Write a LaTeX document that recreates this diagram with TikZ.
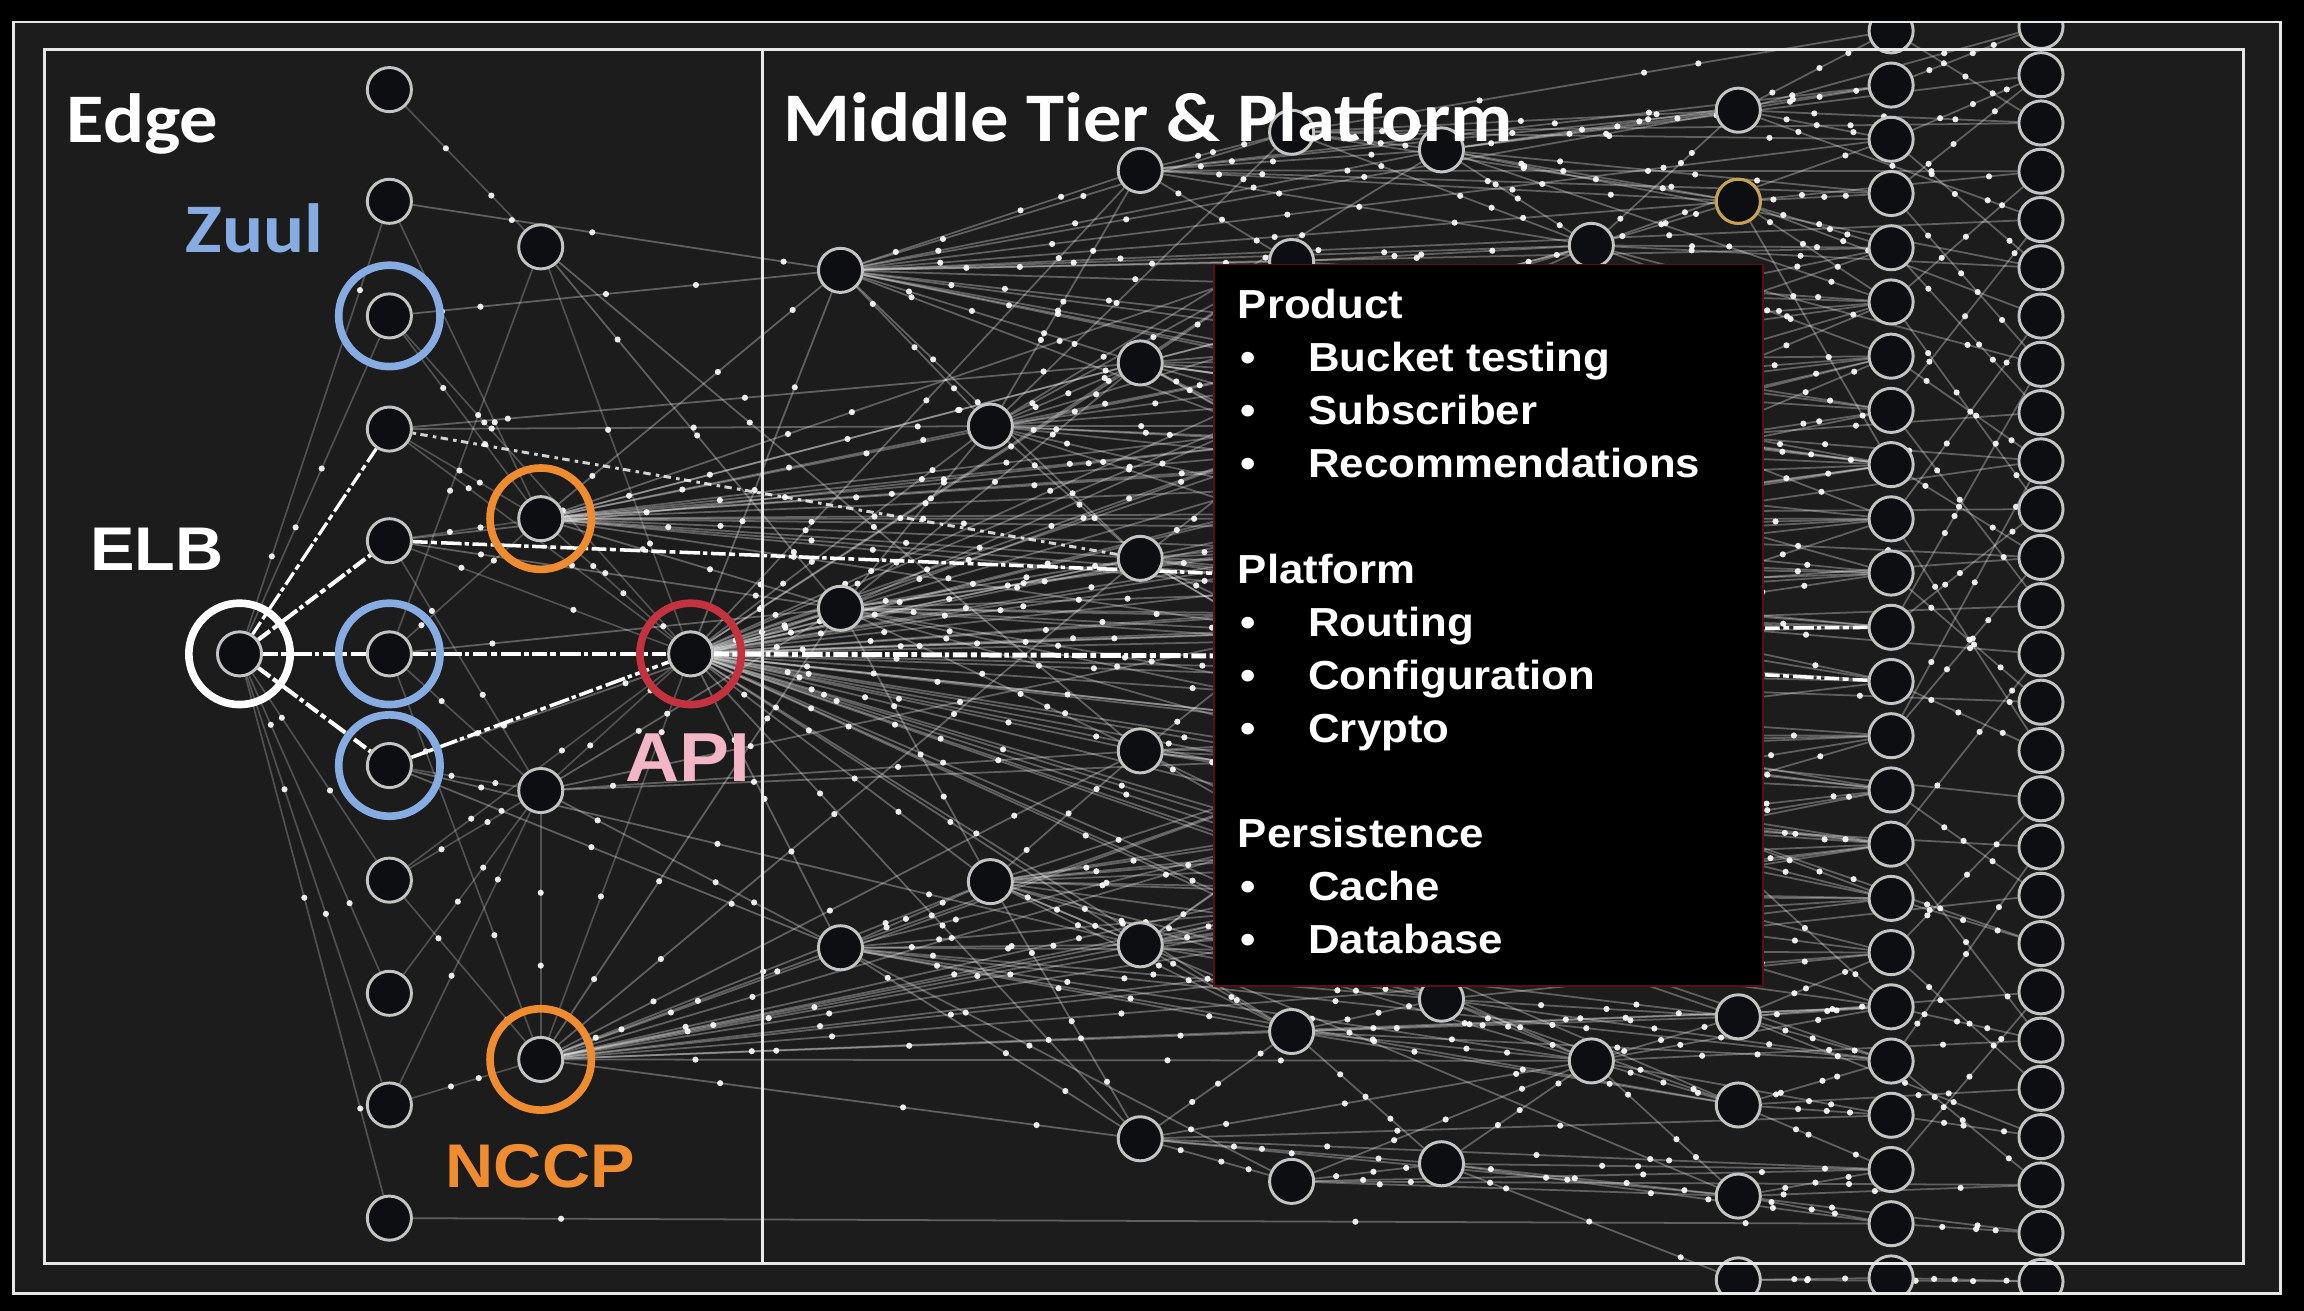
\documentclass[tikz,border=0pt]{standalone}
\usepackage{fontspec}
\setmainfont{Liberation Sans}
\newfontfamily\calfont[FakeStretch=1.1]{Carlito}
\newfontfamily\arfont[FakeStretch=1.08]{Liberation Sans}
\pgfdeclarelayer{bg}
\pgfdeclarelayer{wires}
\pgfdeclarelayer{front}
\pgfsetlayers{bg,wires,main,front}
\definecolor{panel}{HTML}{1C1C1C}
\definecolor{nodefill}{HTML}{0C0E12}
\definecolor{nodeline}{HTML}{C4C4C4}
\definecolor{zuulblue}{HTML}{86ACE2}
\definecolor{nccporange}{HTML}{F08C30}
\definecolor{apired}{HTML}{C43240}
\definecolor{apipink}{HTML}{F2B6C6}
\definecolor{goldring}{HTML}{C9A250}
\definecolor{boxred}{HTML}{5E0C18}
\definecolor{frame}{HTML}{E8E8E8}
\tikzset{
  svc/.style={circle, draw=nodeline, fill=nodefill, line width=1pt, minimum size=15pt, inner sep=0pt},
  halo/.style={circle, draw=#1, line width=2.6pt, minimum size=34.5pt, inner sep=0pt},
  wire/.style={white, draw opacity=0.3, line width=0.6pt},
  dimwire/.style={white, draw opacity=0.24, line width=0.55pt},
  pkt/.style={circle, fill=white, fill opacity=0.9, draw=none, inner sep=0pt, minimum size=2.1pt},
  traffic/.style={draw=white, line width=1.4pt, dash pattern=on 5pt off 1.2pt on 2pt off 1.4pt on 7pt off 1pt on 1.5pt off 1.2pt},
  lighttraffic/.style={draw=white, draw opacity=0.8, line width=1pt, dash pattern=on 1.2pt off 1.5pt on 2.5pt off 1.8pt},
  title/.style={anchor=base west, inner sep=0pt, text=white, font=\calfont\bfseries\fontsize{23.7}{28}\selectfont},
  tag/.style={anchor=base west, inner sep=0pt, font=\arfont\bfseries\fontsize{#1}{#1}\selectfont},
  boxtxt/.style={anchor=base west, inner sep=0pt, text=white, font=\arfont\bfseries\fontsize{13.8}{18}\selectfont},
}
\newcommand\lnk[3][wire]{%
  \pgfmathsetmacro\pa{0.08+0.27*rnd}%
  \pgfmathsetmacro\pb{0.38+0.27*rnd}%
  \pgfmathsetmacro\pc{0.68+0.24*rnd}%
  \draw[#1] (#2) -- (#3) node[pkt,pos=\pa]{} node[pkt,pos=\pb]{} node[pkt,pos=\pc]{};}
\newcommand\dlnk[2]{%
  \pgfmathsetmacro\pa{0.15+0.3*rnd}%
  \pgfmathsetmacro\pb{0.55+0.35*rnd}%
  \draw[dimwire] (#1) -- (#2) node[pkt,pos=\pa]{} node[pkt,pos=\pb]{};}
\begin{document}
\begin{tikzpicture}[x=0.5pt,y=-0.5pt]
\pgfmathsetseed{2024}
\useasboundingbox (0,0) rectangle (1568,892);
\begin{pgfonlayer}{bg}
  \fill[black] (0,0) rectangle (1568,892);
  \fill[panel] (9,15) rectangle (1552,880);
\end{pgfonlayer}

% ---------- nodes ----------
\node[svc] (elb) at (163,445) {};
\node[svc] (api) at (470,445) {};
\foreach \y [count=\i] in {61,137,215,292,368,445,521,599,676,752,829}
  \node[svc] (e\i) at (265,\y) {};
\foreach \y [count=\i] in {168,353,538,721}
  \node[svc] (n\i) at (368,\y) {};
\foreach \xx/\yy [count=\i] in {572/184,572/414,572/645,674/290,674/600,
   776/116,776/247,776/380,776/511,776/643,776/775,
   879/90,879/178,879/702,879/804,981/102,981/680,981/792,
   1083/167,1083/722,1183/75,1183/137,1183/692,1183/752,1183/814,1183/871}
  \node[svc] (m\i) at (\xx,\yy) {};
\node[svc, draw=goldring] at (m22) {};
\foreach \i in {1,...,24}
  \node[svc] (a\i) at (1287,{21+36.9*(\i-1)}) {};
\foreach \i in {1,...,27}
  \node[svc] (b\i) at (1389,{18+32.85*(\i-1)}) {};
% hidden points under the box
\foreach \xx/\yy [count=\i] in {879/300,879/430,879/570,981/230,981/360,981/500,981/610,
   1083/290,1083/420,1083/560,1150/300,1150/560}
  \coordinate (h\i) at (\xx,\yy);
\coordinate (hz) at (1000,397);
\coordinate (hq) at (1000,447);
\coordinate (hy) at (1120,428);
\coordinate (hr) at (1120,455);

% rings
\node[halo=white] (elbring) at (elb) {};
\node[halo=apired] (apiring) at (api) {};
\node[halo=zuulblue] (zr1) at (e3) {};
\node[halo=zuulblue] (zr2) at (e6) {};
\node[halo=zuulblue] (zr3) at (e7) {};
\node[halo=nccporange] (or1) at (n2) {};
\node[halo=nccporange] (or2) at (n4) {};

% ---------- connectors ----------
\begin{pgfonlayer}{wires}
\foreach \s/\t in {elb/e2,elb/e3,elb/e8,elb/e9,elb/e10,elb/e11,e1/n1,n1/e6,n1/api,
   e3/api,e3/n2,e4/n2,e4/api,e5/n2,e5/api,e5/n3,e7/n3,e8/n3,e8/api,e9/n3,e10/n3,
   e10/n4,n2/api,n2/e6,n3/api,n3/n4,n4/e6,n4/api,e2/n2,e6/n3,e8/n4}
  {\dlnk{\s}{\t}}
\foreach \s/\t in {n1/m9,n1/m2,e11/a23,e7/m3,e7/m10,e7/m2,n3/m2,n3/m3,n3/m9,n3/h2,n3/a14,
   e3/m1,e4/m4,e4/m7,e5/m2,e5/h1,e6/m2,e2/m1}
  {\lnk{\s}{\t}}
\foreach \t in {m1,m2,m3,m4,m5,m6,m7,m8,m9,m10,m11,m13,h1,h2,h3,h4,h5,h6,h9,h10,
   m14,m17,m19,m20,a5,a8,a10,a11,a14,a15,a16,a18,b12,b15,m23,m24,a20,
   h7,h8,h11,h12,a6,a7,a9,a12,a13,a17,a19,b10,b13,b17} {\lnk{api}{\t}}
\foreach \t in {m1,m2,m4,m7,m8,h1,h4,h5,h8,m19,a7,a9,a11,b9,m13,h2,h9,h11,a10,a12,b11} {\lnk{n2}{\t}}
\foreach \t in {m3,m5,m8,m9,m10,m11,h3,h6,h7,m14,m20,a15,a17,m2,h10,h12,a16,a18,a19,b19} {\lnk{n4}{\t}}
\foreach \t in {m6,m7,m4,m12,m13,m16,h1,h4,m19,a5,a8,m21,m22,a3,b5,m8,h8,h11,a6,a9} {\lnk{m1}{\t}}
\foreach \t in {m4,m7,m8,m9,h1,h2,h5,a11,a12,m5,h9,h4,h6,h10,a9,a13,a15} {\lnk{m2}{\t}}
\foreach \t in {m5,m10,m11,m14,m15,h3,h6,m17,m20,a18,a20,m24,h7} {\lnk{m3}{\t}}
\foreach \t in {m6,m7,m8,m12,m13,h4,m16,m19,a6,a9,h8,h1,h5,h9,a7,a10} {\lnk{m4}{\t}}
\foreach \t in {m9,m10,m11,m14,h3,h6,m17,m20,a16,a19,m25,h7,h10,h12,a14,a17} {\lnk{m5}{\t}}
\foreach \t in {m12,m16,m19,m21,m22,a2,a4,b4,m13} {\lnk{m6}{\t}}
\foreach \t in {m13,h1,h4,m19,a7,a8,h8,h5,h9,h11,a9,a11} {\lnk{m7}{\t}}
\foreach \t in {h1,h2,h5,a10,a12,h9,h6,h10,a13,a11} {\lnk{m8}{\t}}
\foreach \t in {h2,h3,h6,a14,h10,h7,h12,a15,a16} {\lnk{m9}{\t}}
\foreach \t in {m14,h3,m17,a17,m23,h7,h6,h10,h12,a16} {\lnk{m10}{\t}}
\foreach \t in {m14,m15,m18,m20,a21,m25,a22} {\lnk{m11}{\t}}
\foreach \t in {m16,m19,m21,m22,a1,a3,b3} {\lnk{m12}{\t}}
\foreach \t in {m19,h4,h8,a6} {\lnk{m13}{\t}}
\foreach \t in {m17,m18,m20,m23,m24,a19,a20} {\lnk{m14}{\t}}
\foreach \t in {m18,m20,m25,a22,b25} {\lnk{m15}{\t}}
\foreach \t in {m19,m21,m22,a2,a4,a6,b2,b6} {\lnk{m16}{\t}}
\foreach \t in {m20,m23,m24,a18,a20} {\lnk{m17}{\t}}
\foreach \t in {m20,m25,m26,a23,a22} {\lnk{m18}{\t}}
\foreach \t in {m21,m22,a3,a5,a7,b6,b8} {\lnk{m19}{\t}}
\foreach \t in {m23,m24,m25,a19,a21,b22} {\lnk{m20}{\t}}
\foreach \t in {a1,a2,a3,b1,b3,b5} {\lnk{m21}{\t}}
\foreach \t in {a4,a5,a6,b4,b7,a9} {\lnk{m22}{\t}}
\foreach \t in {a18,a19,a20,b21,b24} {\lnk{m23}{\t}}
\foreach \t in {a20,a21,a22,b23} {\lnk{m24}{\t}}
\foreach \t in {a22,a23,b25,b26} {\lnk{m25}{\t}}
\foreach \t in {a24,b27} {\lnk{m26}{\t}}
\foreach \s/\t in {h4/a5,h4/a6,h4/a8,h5/a9,h5/a10,h5/a11,h5/b12,h6/a13,h6/a14,h6/a15,
   h7/a16,h7/a17,h7/a18,h8/a6,h8/a7,h8/a9,h8/b10,h9/a10,h9/a11,h9/a12,h9/a13,h9/b14,
   h10/a14,h10/a15,h10/a16,h10/a17,h10/b18,h11/a7,h11/a8,h11/a9,h11/a10,
   h12/a15,h12/a16,h12/a17,h12/a19,h12/b20}
  {\lnk{\s}{\t}}
\foreach \s/\t in {a1/b3,a2/b1,a3/b6,a4/b2,a5/b9,a6/b4,a7/b10,a8/b5,a9/b12,a10/b7,
   a11/b15,a12/b11,a13/b16,a14/b12,a15/b19,a16/b14,a17/b20,a18/b17,a19/b22,a20/b18,
   a21/b24,a22/b21,a23/b26,a24/b27,a3/b2,a8/b13,a12/b8,a16/b22,a20/b25,a10/b16,
   a14/b10,a6/b11,a18/b23,a4/b8}
  {\lnk{\s}{\t}}
% heavy traffic
\draw[traffic] (elb) -- (e6);
\draw[traffic] (e6) -- (api);
\draw[traffic] (elb) -- (e5);
\draw[traffic, line width=1.1pt] (elb) -- (e4);
\draw[traffic] (elb) -- (e7);
\draw[traffic, line width=1.2pt] (e7) -- (api);
\draw[traffic, line width=1.2pt] (e5) -- (hz);
\draw[traffic, line width=1.7pt] (api) -- (hq);
\draw[traffic, line width=1.2pt] (hy) -- (a12);
\draw[traffic, line width=1.2pt] (hr) -- (a13);
\draw[lighttraffic] (e4) -- (m8);
\end{pgfonlayer}

% ---------- front: box, texts, frame ----------
\begin{pgfonlayer}{front}
\filldraw[fill=black, draw=boxred, line width=0.6pt] (826,180) rectangle (1200,671);
\foreach \yy/\txt [count=\k] in {217/Product,397/Platform,577/Persistence}
  \node[boxtxt] (hd\k) at (842,\yy) {\txt};
\foreach \yy/\txt [count=\k] in {253/Bucket testing,289/Subscriber,325/Recommendations,
   433/Routing,469/Configuration,505/Crypto,613/Cache,649/Database}
  {\node[boxtxt] (it\k) at (890,\yy) {\txt};
   \node[boxtxt] (bu\k) at (844,\yy) {\textbullet};}
\node[title] (edgelbl) at (45,97) {Edge};
\node[title] (midlbl) at (533,96.6) {Middle Tier \& Platform};
\node[title, text=zuulblue] (zuullbl) at (126,172) {Zuul};
\node[tag=21, text=white] (elblbl) at (61,388) {ELB};
\node[tag=23.6, text=apipink] (apilbl) at (425,532) {API};
\node[tag=21, text=nccporange] (nccplbl) at (303,808) {NCCP};
\fill[black, even odd rule] (0,0) rectangle (1568,892) (9,15) rectangle (1552,880);
\draw[frame, line width=1pt] (9,15) rectangle (1552,880);
\draw[frame, line width=1pt] (30,34) rectangle (1527,860);
\draw[frame, line width=0.8pt] (519,34) -- (519,860);
\end{pgfonlayer}
\end{tikzpicture}
\end{document}
